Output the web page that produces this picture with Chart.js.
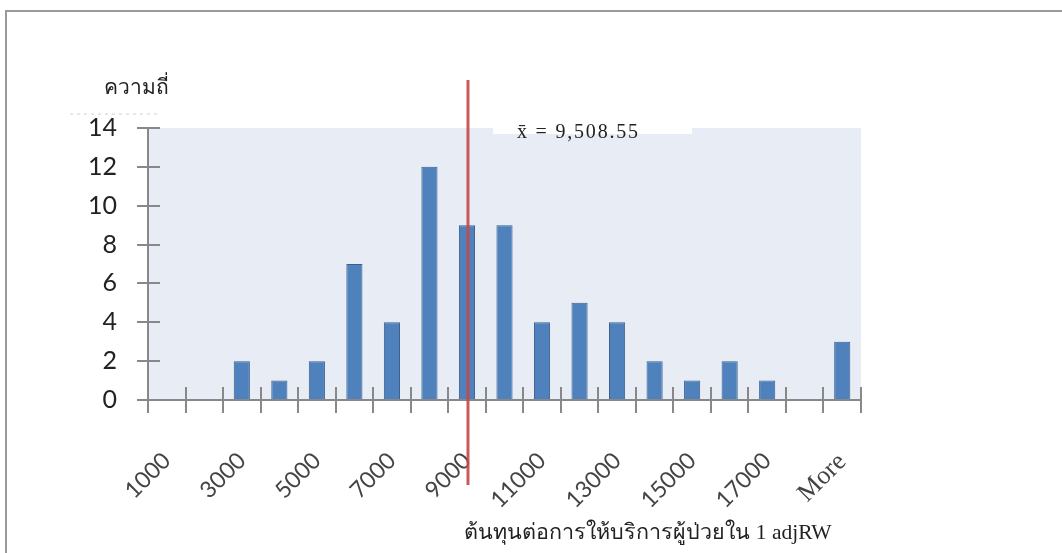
<!DOCTYPE html>
<html><head><meta charset="utf-8">
<script src="https://cdn.jsdelivr.net/npm/chart.js@4.4.1/dist/chart.umd.min.js"></script>
<style>html,body{margin:0;padding:0;background:#fff;overflow:hidden}#wrap{width:1062px;height:553px;position:relative}</style>
</head><body><div id="wrap"><canvas id="c" width="1062" height="553"></canvas></div>
<script>
const categories = ['1000','2000','3000','4000','5000','6000','7000','8000','9000','10000','11000','12000','13000','14000','15000','16000','17000','18000','More'];
const frequencies = [0,0,2,1,2,7,4,12,9,9,4,5,4,2,1,2,1,0,3];
const yTickValues = [0,2,4,6,8,10,12,14];
const meanText = 'x\u0304 = 9,508.55';
const meanCategory = '9000';
const yTitleText = 'ความถี่';
const xTitleText = 'ต้นทุนต่อการให้บริการผู้ป่วยใน 1 adjRW';

const SANS = 'Lato, "Liberation Sans", sans-serif';
const SERIF = '"Liberation Serif", "DejaVu Serif", serif';
const AXIS = '#888888';

const decor = {
  id: 'decor',
  beforeDraw(chart) {
    const {ctx, chartArea: a} = chart;
    ctx.save();
    ctx.fillStyle = '#ffffff';
    ctx.fillRect(0, 0, chart.width, chart.height);
    // outer frame (top + left)
    ctx.strokeStyle = '#9a9a9a';
    ctx.lineWidth = 2;
    ctx.beginPath();
    ctx.moveTo(6, chart.height);
    ctx.lineTo(6, 11);
    ctx.lineTo(chart.width, 11);
    ctx.stroke();
    // plot background
    ctx.fillStyle = '#e8ecf4';
    ctx.fillRect(a.left, a.top, a.right - a.left, a.bottom - a.top);
    // dotted line under y title
    ctx.strokeStyle = '#d0d0d0';
    ctx.lineWidth = 1;
    ctx.setLineDash([3, 4]);
    ctx.beginPath();
    ctx.moveTo(70, a.top - 14);
    ctx.lineTo(158, a.top - 14);
    ctx.stroke();
    ctx.setLineDash([]);
    ctx.restore();
  },
  afterDatasetsDraw(chart) {
    const {ctx, chartArea: a, scales: {x, y}} = chart;
    ctx.save();
    // axes
    ctx.strokeStyle = AXIS;
    ctx.lineWidth = 2;
    ctx.beginPath();
    ctx.moveTo(a.left, y.getPixelForValue(14));
    ctx.lineTo(a.left, a.bottom);
    ctx.lineTo(a.right, a.bottom);
    ctx.stroke();
    // y tick marks
    yTickValues.forEach(v => {
      const py = Math.round(y.getPixelForValue(v));
      ctx.beginPath();
      ctx.moveTo(a.left - 11, py);
      ctx.lineTo(a.left + 12, py);
      ctx.stroke();
    });
    // x tick marks at category boundaries
    const n = categories.length;
    const w = (a.right - a.left) / n;
    for (let i = 0; i <= n; i++) {
      const px = Math.round(a.left + i * w);
      ctx.beginPath();
      ctx.moveTo(px, a.bottom - 13);
      ctx.lineTo(px, a.bottom + 13);
      ctx.stroke();
    }
    // mean line
    const mx = x.getPixelForValue(categories.indexOf(meanCategory)) + 1;
    ctx.strokeStyle = 'rgba(196,72,72,0.9)';
    ctx.lineWidth = 3;
    ctx.beginPath();
    ctx.moveTo(mx, a.top - 48);
    ctx.lineTo(mx, a.bottom + 85);
    ctx.stroke();
    // mean annotation
    ctx.fillStyle = '#ffffff';
    ctx.fillRect(mx + 25, a.top - 10, 199, 16);
    ctx.fillStyle = '#222222';
    ctx.font = '20px ' + SERIF;
    ctx.letterSpacing = '1.8px';
    ctx.textAlign = 'left';
    ctx.textBaseline = 'middle';
    ctx.fillText(meanText, mx + 49, a.top + 5);
    ctx.letterSpacing = '0px';
    // y title
    ctx.font = '21px "Noto Sans", ' + SANS;
    ctx.fillStyle = '#222222';
    ctx.textAlign = 'left';
    ctx.textBaseline = 'alphabetic';
    ctx.fillText(yTitleText, 104, a.top - 34);
    // x title
    ctx.font = '21.5px ' + SERIF;
    ctx.textAlign = 'center';
    ctx.fillText(xTitleText, 648, chart.height - 14);
    ctx.restore();
  }
};

new Chart(document.getElementById('c'), {
  type: 'bar',
  data: {
    labels: categories,
    datasets: [{
      data: frequencies,
      backgroundColor: '#4f81bd',
      borderColor: '#3a5f8e',
      borderWidth: 1,
      barPercentage: 0.86,
      categoryPercentage: 0.5
    }]
  },
  options: {
    responsive: false,
    animation: false,
    devicePixelRatio: 1,
    layout: {padding: {left: 0, top: 128, right: 201, bottom: 0}},
    plugins: {legend: {display: false}, tooltip: {enabled: false}},
    scales: {
      x: {
        grid: {display: false, drawTicks: false},
        border: {display: false},
        ticks: {
          autoSkip: false,
          maxRotation: 45,
          minRotation: 45,
          padding: 47,
          color: '#444444',
          callback: (v, i) => (i % 2 === 0 ? categories[i] : ''),
          font: (c) => (c.index === categories.length - 1
            ? {family: SERIF, size: 26}
            : {family: SANS, size: 23})
        },
        afterFit: (s) => { s.height = 153; }
      },
      y: {
        min: 0,
        max: 14,
        grid: {display: false, drawTicks: false},
        border: {display: false},
        ticks: {
          stepSize: 2,
          padding: 31,
          color: '#222222',
          font: {family: SANS, size: 25}
        },
        afterFit: (s) => { s.width = 148; }
      }
    }
  },
  plugins: [decor]
});
</script>
</body></html>
